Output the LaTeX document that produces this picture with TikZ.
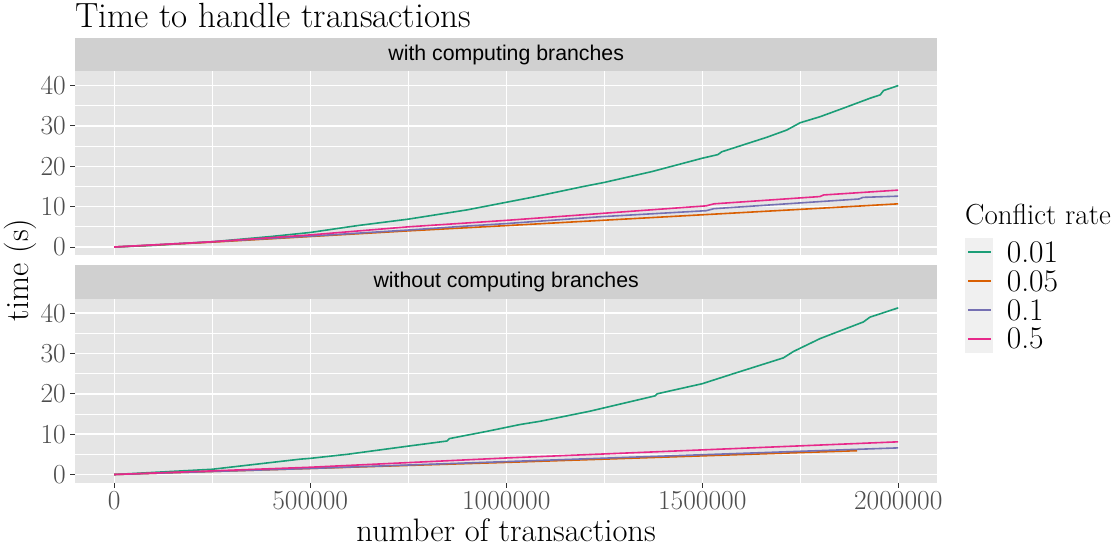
\documentclass[tikz,border=0pt]{standalone}
\usepackage{fontspec}
\newfontfamily\stripfont{Liberation Sans}
\usepackage{tikz}
\definecolor{cGreen}{HTML}{1B9E77}
\definecolor{cOrange}{HTML}{D95F02}
\definecolor{cPurple}{HTML}{7570B3}
\definecolor{cPink}{HTML}{E7298A}
\definecolor{panelgray}{HTML}{E5E5E5}
\definecolor{stripgray}{HTML}{D0D0D0}
\definecolor{keygray}{HTML}{F0F0F0}
\definecolor{ticktext}{HTML}{4D4D4D}
\definecolor{tickline}{HTML}{333333}

\begin{document}
\begin{tikzpicture}[x=1pt,y=-1pt,
  ticklabel/.style={text=ticktext,font=\fontsize{27.5}{32}\selectfont,inner sep=0pt},
  axistitle/.style={font=\fontsize{32.5}{38}\selectfont,inner sep=0pt},
  striplabel/.style={font=\stripfont\fontsize{21.3}{25}\selectfont,inner sep=0pt},
  major/.style={white,line width=1.4pt},
  minor/.style={white,line width=0.7pt},
  tickmark/.style={tickline,line width=1pt},
  series/.style={line width=1.6pt,line join=round}]
\useasboundingbox (0,0) rectangle (1120,550);
\fill[white] (0,0) rectangle (1120,550);
\node[anchor=base west,font=\fontsize{35}{42}\selectfont,inner sep=0pt] (title) at (75,27.5) {Time to handle transactions};
\foreach \zero/\name/\label in {247/top/with computing branches,474.5/bot/without computing branches}{
  \begin{scope}[shift={(114.2,\zero)},x=39.2pt,y=4.035pt]
    \fill[stripgray] (-1,43.5) rectangle (21,51.8);
    \node[striplabel] (strip-\name) at (10,47.65) {\label};
    \fill[panelgray] (-1,-2.07) rectangle (21,43.5);
    \foreach \gx in {2.5,7.5,12.5,17.5} \draw[minor] (\gx,-2.07) -- (\gx,43.5);
    \foreach \gy in {5,15,25,35} \draw[minor] (-1,\gy) -- (21,\gy);
    \foreach \gx in {0,5,...,20} \draw[major] (\gx,-2.07) -- (\gx,43.5);
    \foreach \gy in {0,10,...,40}{
      \draw[major] (-1,\gy) -- (21,\gy);
      \draw[tickmark] (-1,\gy) -- ++(-5.5pt,0pt);
      \node[ticklabel,anchor=east] (y\name-\gy) at ([xshift=-9pt]-1,\gy) {\gy};
    }
  \end{scope}
}
\begin{scope}[shift={(114.2,247)},x=39.2pt,y=4.035pt]
  \draw[series,cGreen] plot coordinates {(0,0) (1,0.4) (2.5,1.3) (4,2.6) (5,3.6) (6.2,5.3) (7.5,6.9) (9,9.2) (9.85,10.8) (10.65,12.3) (11.97,15.0) (12.5,16.0) (13.72,18.7) (15,22.0) (15.4,22.9) (15.5,23.6) (16.65,27.2) (17.16,29.0) (17.5,30.8) (18.01,32.3) (18.6,34.4) (19.29,36.9) (19.54,37.7) (19.63,38.8) (20,40.0)};
  \draw[series,cOrange] plot coordinates {(0,0) (2.5,1.2) (5,2.6) (7.5,4.0) (10,5.3) (14.1,7.5) (18,9.6) (20,10.7)};
  \draw[series,cPurple] plot coordinates {(0,0) (2.5,1.3) (5,2.7) (7.5,4.2) (9,5.2) (10,5.8) (12.4,7.5) (15.1,9.0) (15.3,9.5) (19.0,11.9) (19.1,12.3) (20,12.6)};
  \draw[series,cPink] plot coordinates {(0,0) (2.5,1.3) (5,3.0) (7.5,5.0) (10,6.6) (12.4,8.3) (15.1,10.2) (15.3,10.7) (18,12.5) (18.1,12.9) (20,14.1)};
\end{scope}
\begin{scope}[shift={(114.2,474.5)},x=39.2pt,y=4.035pt]
  \draw[series,cGreen] plot coordinates {(0,0) (2.5,1.3) (4.74,3.8) (5,4.0) (5.94,5.0) (7.55,7.1) (8.49,8.3) (8.55,8.9) (9.51,10.7) (10.36,12.4) (10.87,13.2) (12.14,15.7) (13.8,19.5) (13.85,20.0) (15,22.5) (15.8,25.0) (17.07,28.9) (17.33,30.5) (18.01,33.7) (19.11,37.8) (19.28,39.0) (20,41.3)};
  \draw[series,cOrange] plot coordinates {(0,0) (5,1.5) (10,3.0) (18.95,5.9)};
  \draw[series,cPurple] plot coordinates {(0,0) (5,1.5) (10,3.2) (20,6.6)};
  \draw[series,cPink] plot coordinates {(0,0) (5,1.8) (10,4.1) (15,6.1) (20,8.1)};
  \foreach \gx/\lab in {0/0,5/500000,10/1000000,15/1500000,20/2000000}{
    \draw[tickmark] (\gx,-2.07) -- ++(0pt,-5.5pt);
    \node[ticklabel,anchor=north] (x-\gx) at ([yshift=-8.5pt]\gx,-2.07) {\lab};
  }
\end{scope}
\node[axistitle,rotate=90] (ytitle) at (20,270) {time (s)};
\node[axistitle] (xtitle) at (506,530) {number of transactions};
\node[anchor=west,font=\fontsize{29}{34}\selectfont,inner sep=0pt] (legtitle) at (965,215) {Conflict rate};
\fill[keygray] (965,237.7) rectangle (993.3,353.3);
\foreach \i/\c/\lab in {0/cGreen/0.01,1/cOrange/0.05,2/cPurple/0.1,3/cPink/0.5}{
  \draw[series,\c] (968.3,252.1+28.9*\i) -- (990.7,252.1+28.9*\i);
  \node[anchor=west,font=\fontsize{31.5}{36}\selectfont,inner sep=0pt] (key-\i) at (1006.7,252.1+28.9*\i) {\lab};
}
\end{tikzpicture}
\end{document}
